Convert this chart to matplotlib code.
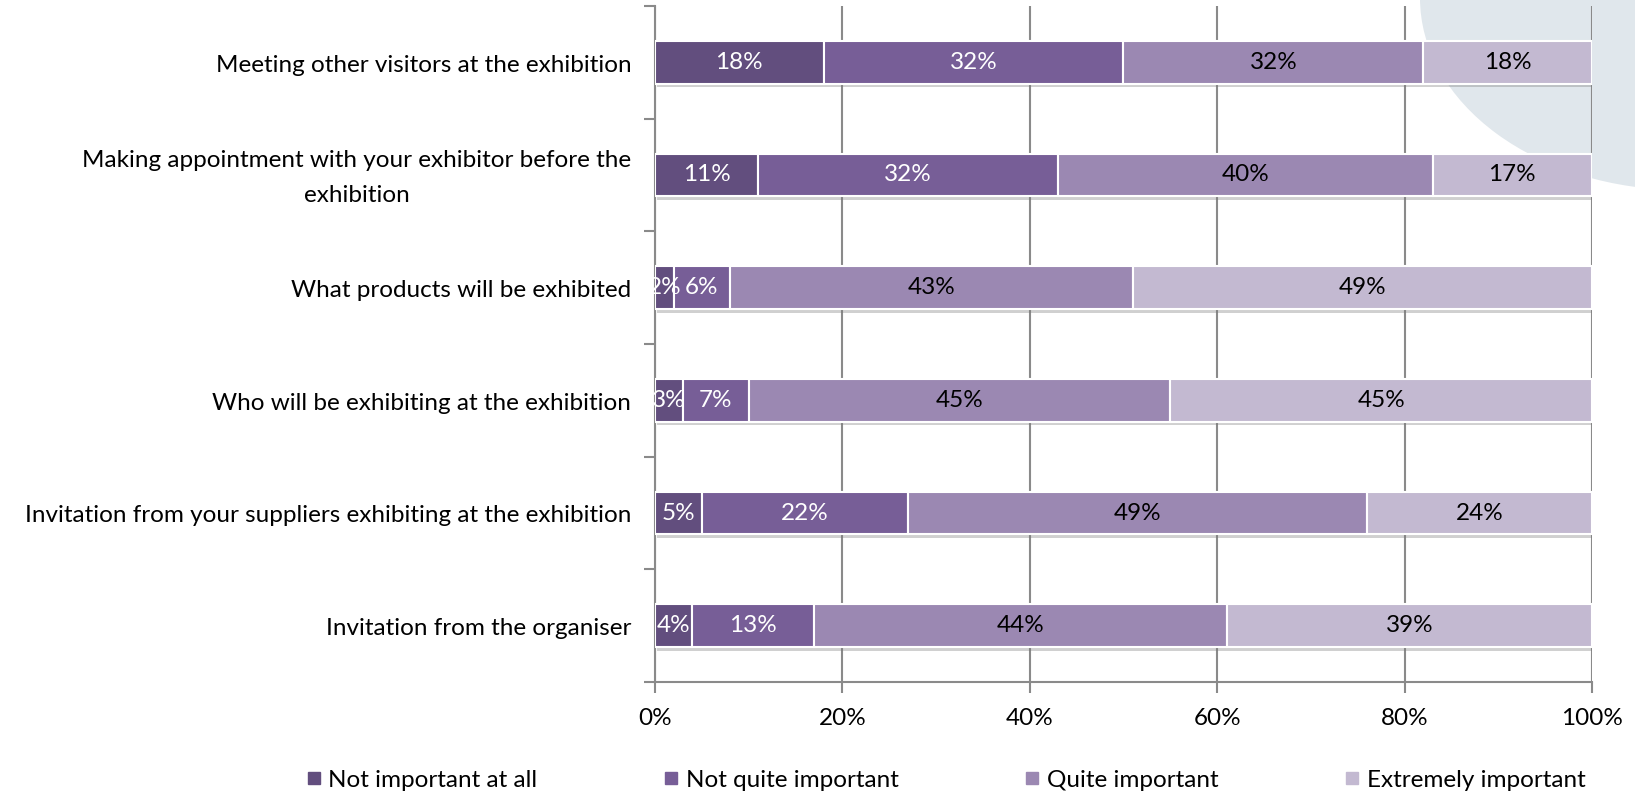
import matplotlib
matplotlib.use("Agg")
import matplotlib.pyplot as plt
import matplotlib.patheffects as pe
from matplotlib.lines import Line2D
from matplotlib.patches import Ellipse

# ────── Data ──────

CATEGORIES = [
    "Meeting other visitors at the exhibition",
    "Making appointment with your exhibitor before the\nexhibition",
    "What products will be exhibited",
    "Who will be exhibiting at the exhibition",
    "Invitation from your suppliers exhibiting at the exhibition",
    "Invitation from the organiser",
]
SERIES = [
    "Not important at all",
    "Not quite important",
    "Quite important",
    "Extremely important",
]
NOT_AT_ALL    = [18, 11, 2, 3, 5, 4]
NOT_QUITE     = [32, 32, 6, 7, 22, 13]
QUITE         = [32, 40, 43, 45, 49, 44]
EXTREMELY     = [18, 17, 49, 45, 24, 39]
X_TICKS       = [0, 20, 40, 60, 80, 100]

# ────── Style ──────

COLORS      = ["#624e7e", "#775e97", "#9b88b2", "#c3b9d1"]
TEXT_COLORS = ["white", "white", "black", "black"]
GRID_COLOR  = "#8a8a8a"
BLOB_COLOR  = "#e0e7ec"
FONT        = "Lato"
FS          = 17.5

plt.rcParams["font.family"] = [FONT, "DejaVu Sans"]

fig = plt.figure(figsize=(16.35, 7.96), dpi=100)
fig.patch.set_facecolor("white")

# pale decorative blob in the top-right corner
fig.add_artist(Ellipse((1682 / 1635, 798 / 796), 524 / 1635, 384 / 796,
                       transform=fig.transFigure, color=BLOB_COLOR,
                       zorder=0, lw=0))

ax = fig.add_axes([0.4006, 0.1432, 0.5731, 0.8493])
ax.set_facecolor("none")
ax.set_zorder(1)

n = len(CATEGORIES)
ys = list(range(n))
values = [NOT_AT_ALL, NOT_QUITE, QUITE, EXTREMELY]

shadow = [pe.SimplePatchShadow(offset=(1.5, -2.5), shadow_rgbFace="#7a7a7a", alpha=0.35),
          pe.Normal()]

left = [0] * n
for vals, color, tcolor in zip(values, COLORS, TEXT_COLORS):
    bars = ax.barh(ys, vals, left=left, height=0.38, color=color,
                   edgecolor="white", linewidth=1.5, zorder=3)
    for b in bars:
        b.set_path_effects(shadow)
    for y, v, l in zip(ys, vals, left):
        ax.text(l + v / 2, y, f"{v}%", ha="center", va="center",
                fontsize=FS, color=tcolor, zorder=4)
    left = [l + v for l, v in zip(left, vals)]

ax.set_xlim(0, 100)
ax.set_ylim(n - 0.5, -0.5)

ax.set_xticks(X_TICKS)
ax.set_xticklabels([f"{t}%" for t in X_TICKS], fontsize=FS)
ax.tick_params(axis="x", length=8, width=1.5, color=GRID_COLOR, pad=11,
               direction="out")

# tick marks at band boundaries; category names written beside the spine
ax.set_yticks([i - 0.5 for i in range(n + 1)])
ax.set_yticklabels([])
ax.tick_params(axis="y", length=8, width=1.5, color=GRID_COLOR,
               direction="out")
for y, name in zip(ys, CATEGORIES):
    ax.annotate(name, xy=(0, y), xycoords=ax.get_yaxis_transform(),
                xytext=(-17, -2), textcoords="offset points",
                ha="right", va="center", multialignment="center",
                linespacing=1.8, fontsize=FS, annotation_clip=False)

ax.grid(axis="x", color=GRID_COLOR, linewidth=1.5, zorder=1)
ax.set_axisbelow(True)
for side in ("top", "right"):
    ax.spines[side].set_visible(False)
for side in ("left", "bottom"):
    ax.spines[side].set_color(GRID_COLOR)
    ax.spines[side].set_linewidth(1.5)

handles = [Line2D([], [], marker="s", linestyle="none", markersize=9,
                  markerfacecolor=c, markeredgecolor=c) for c in COLORS]
fig.legend(handles, SERIES, loc="center", ncol=4, frameon=False,
           bbox_to_anchor=(0.5786, 0.02), fontsize=FS,
           handlelength=0.6, handletextpad=0.3, columnspacing=5.2)

fig.savefig("out.png", dpi=100)
